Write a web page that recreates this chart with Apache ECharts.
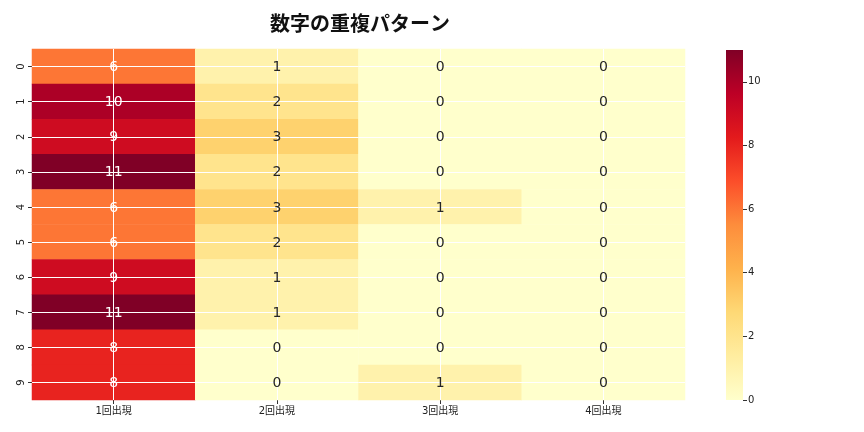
<!DOCTYPE html>
<html><head><meta charset="utf-8">
<script src="https://cdn.jsdelivr.net/npm/echarts@6/dist/echarts.min.js"></script>
<style>html,body{margin:0;padding:0;background:#fff}#c{width:864px;height:432px}</style>
</head><body><div id="c"></div>
<script>
const columns = ['1回出現','2回出現','3回出現','4回出現'];
const rows = ['0','1','2','3','4','5','6','7','8','9'];
const col1 = [6,10,9,11,6,6,9,11,8,8];
const col2 = [1,2,3,2,3,2,1,1,0,0];
const col3 = [0,0,0,0,1,0,0,0,0,1];
const col4 = [0,0,0,0,0,0,0,0,0,0];
const colorTicks = [0,2,4,6,8,10];
const vmin = 0, vmax = 11;
const palette = ['#ffffcc','#ffeda0','#fed976','#feb24c','#fd8d3c','#fc4e2a','#e31a1c','#bd0026','#800026'];

const cols = [col1,col2,col3,col4];
const data = [];
const labelData = [];
cols.forEach((col,ci)=>col.forEach((v,ri)=>{
  data.push([ci,ri,v]);
  labelData.push({value:[ci,ri,v], label:{color: v>=5 ? '#ffffff' : '#262626'}});
}));
const FONT = '"DejaVu Sans","Noto Sans CJK JP",sans-serif';
const TFONT = '"Noto Sans CJK JP","DejaVu Sans",sans-serif';
const grad = new echarts.graphic.LinearGradient(0,1,0,0,
  palette.map((c,i)=>({offset:i/(palette.length-1), color:c})));
const chart = echarts.init(document.getElementById('c'));
chart.setOption({
  animation:false,
  backgroundColor:'#fff',
  title:{text:'数字の重複パターン', left:355, top:8, textAlign:'center',
    textStyle:{fontFamily:TFONT, fontSize:20, fontWeight:'bold', color:'#111'}},
  grid:[
    {left:32, right:179, top:49, bottom:32},
    {left:726, width:17, top:50, bottom:32}
  ],
  xAxis:[
    {type:'category', data:columns, gridIndex:0, position:'bottom',
      axisLine:{show:false}, axisTick:{show:true, alignWithLabel:true, length:4, lineStyle:{color:'#333'}},
      axisLabel:{fontFamily:FONT, fontSize:10, color:'#222', margin:6}, splitLine:{show:false}},
    {type:'category', gridIndex:1, show:false, data:['c']}
  ],
  yAxis:[
    {type:'category', data:rows, gridIndex:0, inverse:true,
      axisLine:{show:false}, axisTick:{show:true, alignWithLabel:true, length:4, lineStyle:{color:'#333'}},
      axisLabel:{fontFamily:FONT, fontSize:10, color:'#222', rotate:90, margin:6}, splitLine:{show:false}},
    {type:'value', gridIndex:1, min:vmin, max:vmax, interval:2, position:'right', show:true,
      axisLine:{show:false}, axisTick:{show:true, length:4, inside:false, lineStyle:{color:'#333'}},
      axisLabel:{show:true, fontFamily:FONT, fontSize:10, color:'#222', margin:5, showMaxLabel:false,
        formatter:v=>colorTicks.includes(v)?String(v):''},
      splitLine:{show:false}}
  ],
  visualMap:{type:'continuous', min:vmin, max:vmax, calculable:false, show:false,
    seriesIndex:0, inRange:{color:palette}},
  series:[{
    type:'heatmap', xAxisIndex:0, yAxisIndex:0, data:data, z:2,
    label:{show:false},
    itemStyle:{borderWidth:0},
    emphasis:{disabled:true},
    markLine:{silent:true, symbol:['none','none'], label:{show:false},
      lineStyle:{color:'#ffffff', width:1, type:'solid'},
      data:[...columns.map(c=>({xAxis:c})), ...rows.map(r=>({yAxis:r}))]}
  },{
    type:'scatter', xAxisIndex:0, yAxisIndex:0, data:labelData, z:20, silent:true,
    symbolSize:1, itemStyle:{color:'rgba(0,0,0,0)'}, emphasis:{disabled:true},
    label:{show:true, position:'inside', offset:[0,1], fontFamily:FONT, fontSize:14,
      textBorderWidth:0, textBorderColor:'transparent', textShadowBlur:0, opacity:1,
      formatter:p=>String(p.value[2])}
  },{
    type:'bar', xAxisIndex:1, yAxisIndex:1, data:[vmax], barWidth:'100%', silent:true,
    itemStyle:{color:grad, borderWidth:0}
  }]
});
</script></body></html>
